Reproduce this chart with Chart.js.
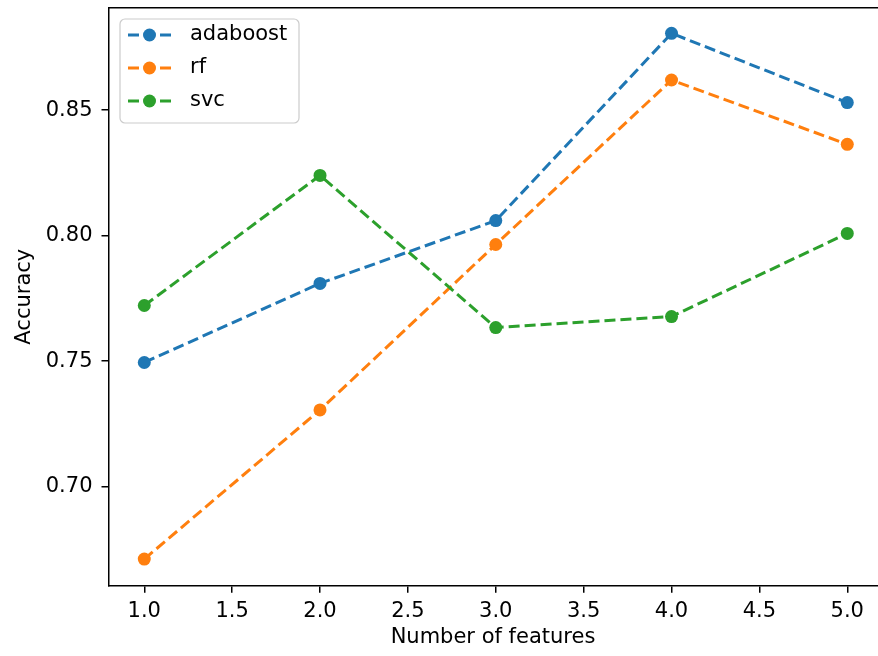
<!DOCTYPE html>
<html>
<head>
<meta charset="UTF-8">
<script src="https://cdn.jsdelivr.net/npm/chart.js@4.4.0/dist/chart.umd.min.js"></script>
<style>
*{margin:0;padding:0}
html,body{background:#fff;overflow:hidden}
#wrap{width:884px;height:656px}
canvas{display:block}
</style>
</head>
<body>
<div id="wrap"><canvas id="c" width="884" height="656"></canvas></div>
<script>
const features = [1, 2, 3, 4, 5];
const adaboost = [0.7495, 0.781, 0.806, 0.8806, 0.853];
const rf = [0.6712, 0.7306, 0.7965, 0.8620, 0.8364];
const svc = [0.7722, 0.8240, 0.7634, 0.7678, 0.8009];
const xTicks = [1.0, 1.5, 2.0, 2.5, 3.0, 3.5, 4.0, 4.5, 5.0];
const yTicks = [0.70, 0.75, 0.80, 0.85];
const names = ["adaboost", "rf", "svc"];
const colors = ["#1f77b4", "#ff7f0e", "#2ca02c"];

const FONT = "'DejaVu Sans', sans-serif";
const pts = arr => features.map((x, i) => ({ x, y: arr[i] }));

const ds = [adaboost, rf, svc].map((arr, i) => ({
  label: names[i],
  data: pts(arr),
  borderColor: colors[i],
  backgroundColor: colors[i],
  borderWidth: 3,
  borderDash: [11, 5],
  pointRadius: 6.5,
  pointHoverRadius: 6.5,
  pointBorderWidth: 0,
  pointBackgroundColor: colors[i],
  tension: 0,
  fill: false,
  order: 2 - i
}));

// top spine (right spine falls outside the picture) + legend
const framePlugin = {
  id: "frame",
  afterDraw(chart) {
    const { ctx, chartArea: a } = chart;
    ctx.save();
    ctx.strokeStyle = "#000";
    ctx.lineWidth = 1.5;
    ctx.beginPath();
    ctx.moveTo(a.left, a.top);
    ctx.lineTo(chart.width, a.top);
    ctx.stroke();

    const bx = 120, by = 19, bw = 179, bh = 104, r = 5;
    ctx.beginPath();
    ctx.roundRect(bx, by, bw, bh, r);
    ctx.fillStyle = "rgba(255,255,255,0.8)";
    ctx.fill();
    ctx.strokeStyle = "#cccccc";
    ctx.lineWidth = 1.2;
    ctx.stroke();
    const rows = [35, 68, 101];
    names.forEach((n, i) => {
      const y = rows[i];
      ctx.strokeStyle = colors[i];
      ctx.lineWidth = 3;
      ctx.setLineDash([11, 5]);
      ctx.beginPath();
      ctx.moveTo(128, y);
      ctx.lineTo(171, y);
      ctx.stroke();
      ctx.setLineDash([]);
      ctx.fillStyle = colors[i];
      ctx.beginPath();
      ctx.arc(149.5, y, 6.5, 0, Math.PI * 2);
      ctx.fill();
      ctx.fillStyle = "#000";
      ctx.font = "21px " + FONT;
      ctx.textAlign = "left";
      ctx.textBaseline = "middle";
      ctx.fillText(n, 190, y);
    });
    ctx.restore();
  }
};

new Chart(document.getElementById("c"), {
  type: "line",
  data: { datasets: ds },
  options: {
    responsive: false,
    animation: false,
    devicePixelRatio: 1,
    layout: { padding: { left: 0, top: 7.7, right: 0, bottom: 0 } },
    plugins: { legend: { display: false }, tooltip: { enabled: false } },
    scales: {
      x: {
        type: "linear",
        min: 0.7964, max: 5.172,
        afterBuildTicks: s => { s.ticks = xTicks.map(v => ({ value: v })); },
        afterFit: s => { s.height = 70.3; s.paddingLeft = 0; s.paddingRight = 0; },
        grid: { display: true, drawOnChartArea: false, drawTicks: true, tickLength: 7, color: "#000", lineWidth: 1.5 },
        border: { display: true, color: "#000", width: 1.5 },
        ticks: { color: "#000", font: { family: FONT, size: 21 }, padding: 6, maxRotation: 0, callback: v => Number(v).toFixed(1) },
        title: { display: true, text: "Number of features", color: "#000", font: { family: FONT, size: 21 }, padding: { top: 0, bottom: 5.4 } }
      },
      y: {
        type: "linear",
        min: 0.6606, max: 0.8908,
        afterBuildTicks: s => { s.ticks = yTicks.map(v => ({ value: v })); },
        afterFit: s => { s.width = 108.5; s.paddingTop = 0; s.paddingBottom = 0; },
        grid: { display: true, drawOnChartArea: false, drawTicks: true, tickLength: 7, color: "#000", lineWidth: 1.5 },
        border: { display: true, color: "#000", width: 1.5 },
        ticks: { color: "#000", font: { family: FONT, size: 21 }, padding: 9, callback: v => Number(v).toFixed(2) },
        title: { display: true, text: "Accuracy", color: "#000", font: { family: FONT, size: 21 }, padding: { top: 12.4, bottom: 0 } }
      }
    }
  },
  plugins: [framePlugin]
});
</script>
</body>
</html>
